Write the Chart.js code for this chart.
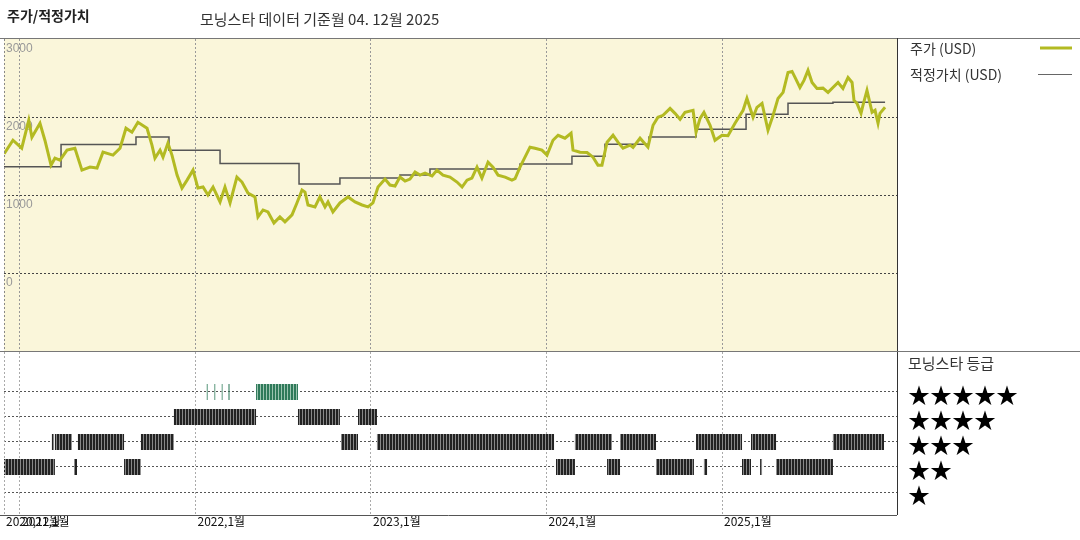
<!DOCTYPE html>
<html><head><meta charset="utf-8">
<script src="https://cdn.jsdelivr.net/npm/chart.js@4.4.1/dist/chart.umd.min.js"></script>
<style>
body{margin:0;background:#fff;width:1080px;height:540px;overflow:hidden;font-family:"Noto Sans CJK KR","Noto Sans",sans-serif;}
#wrap{position:relative;width:1080px;height:540px;}
canvas{position:absolute;left:0;}
.t{position:absolute;white-space:nowrap;color:#222;}
</style></head><body>
<div id="wrap">
<canvas id="c1" width="1080" height="352" style="top:0"></canvas>
<canvas id="c2" width="1080" height="188" style="top:352px"></canvas>
<div class="t" style="left:7px;top:5px;font-size:14px;font-weight:bold;">주가/적정가치</div>
<div class="t" style="left:200px;top:8px;font-size:15px;color:#333;">모닝스타 데이터 기준월 04. 12월 2025</div>
<div class="t" style="left:910px;top:38px;font-size:14px;color:#333;">주가 (USD)</div>
<div class="t" style="left:910px;top:64px;font-size:14px;color:#333;">적정가치 (USD)</div>
<div class="t" style="left:908px;top:352px;font-size:15px;color:#333;">모닝스타 등급</div>
<div class="t" style="left:908px;top:377px;font-size:22px;color:#000;">★★★★★</div>
<div class="t" style="left:908px;top:402px;font-size:22px;color:#000;">★★★★</div>
<div class="t" style="left:908px;top:427px;font-size:22px;color:#000;">★★★</div>
<div class="t" style="left:908px;top:452px;font-size:22px;color:#000;">★★</div>
<div class="t" style="left:908px;top:477px;font-size:22px;color:#000;">★</div>
</div>
<script>
// ---- data (x in decimal years) ----
const priceDates = [2020.91,2020.96,2021.01,2021.05,2021.068,2021.114,2021.142,2021.177,2021.199,2021.228,2021.268,2021.313,2021.353,2021.399,2021.439,2021.473,2021.53,2021.57,2021.604,2021.638,2021.672,2021.724,2021.752,2021.769,2021.798,2021.815,2021.843,2021.866,2021.895,2021.923,2021.952,2021.986,2022.014,2022.043,2022.071,2022.1,2022.14,2022.168,2022.197,2022.236,2022.265,2022.299,2022.339,2022.356,2022.385,2022.413,2022.447,2022.481,2022.51,2022.55,2022.578,2022.607,2022.624,2022.641,2022.681,2022.709,2022.738,2022.755,2022.783,2022.823,2022.869,2022.909,2022.949,2022.983,2023.011,2023.04,2023.08,2023.108,2023.137,2023.165,2023.194,2023.222,2023.251,2023.279,2023.308,2023.348,2023.376,2023.41,2023.45,2023.49,2023.519,2023.547,2023.575,2023.604,2023.632,2023.667,2023.695,2023.724,2023.764,2023.803,2023.821,2023.849,2023.906,2023.934,2023.974,2024.003,2024.037,2024.066,2024.105,2024.14,2024.151,2024.191,2024.231,2024.265,2024.293,2024.316,2024.345,2024.379,2024.407,2024.436,2024.476,2024.493,2024.533,2024.578,2024.607,2024.635,2024.664,2024.704,2024.732,2024.761,2024.789,2024.835,2024.852,2024.875,2024.897,2024.932,2024.96,2025.0,2025.034,2025.074,2025.12,2025.142,2025.177,2025.199,2025.228,2025.262,2025.291,2025.319,2025.348,2025.376,2025.399,2025.416,2025.444,2025.467,2025.49,2025.513,2025.541,2025.575,2025.604,2025.632,2025.661,2025.689,2025.718,2025.741,2025.752,2025.769,2025.792,2025.803,2025.826,2025.855,2025.872,2025.889,2025.9,2025.929];
const priceValues = [1529,1702,1600,1958,1740,1920,1702,1383,1472,1447,1575,1600,1319,1358,1345,1549,1511,1600,1856,1805,1932,1856,1639,1472,1575,1485,1664,1511,1255,1089,1191,1319,1089,1102,1000,1102,911,1102,898,1230,1166,1025,975,719,808,783,642,719,655,745,898,1064,1038,872,847,975,847,911,783,898,975,911,872,847,898,1102,1204,1128,1115,1230,1179,1204,1294,1255,1281,1243,1319,1255,1230,1166,1102,1191,1217,1358,1217,1421,1358,1255,1230,1191,1210,1358,1613,1600,1575,1511,1702,1766,1728,1792,1575,1549,1545,1485,1383,1383,1677,1766,1677,1600,1639,1610,1728,1613,1894,1997,2022,2111,2047,1970,2060,2086,1805,1983,2060,1894,1702,1766,1760,1920,2086,2238,1997,2124,2175,1830,2022,2238,2316,2571,2584,2507,2379,2469,2597,2443,2366,2370,2316,2379,2443,2366,2507,2443,2213,2175,2047,2150,2341,2060,2086,1920,2047,2124];
const fairDates = [2020.886,2021.234,2021.661,2021.849,2022.14,2022.59,2022.823,2023.165,2023.336,2023.849,2024.145,2024.333,2024.584,2024.852,2025.137,2025.376,2025.632,2025.883,2025.929];
const fairValues = [1298,1362,1648,1745,1575,1405,1140,1217,1255,1332,1396,1498,1650,1745,1842,2034,2175,2188,2188];
const yTicks = [3000,2000,1000,0];
const xTickYears = [2021,2022,2023,2024,2025];
const xTickLabels = ["2021,1월","2022,1월","2023,1월","2024,1월","2025,1월"];
const firstLabel = "2020,12월";
// rating periods [start,end]
const rating2 = [[2020.903,2021.199],[2021.308,2021.325],[2021.593,2021.689],[2024.054,2024.162],[2024.345,2024.419],[2024.624,2024.84],[2024.897,2024.915],[2025.114,2025.165],[2025.217,2025.228],[2025.308,2025.632]];
const rating3 = [[2021.182,2021.194],[2021.199,2021.296],[2021.33,2021.593],[2021.689,2021.877],[2022.829,2022.926],[2023.034,2024.043],[2024.162,2024.373],[2024.419,2024.624],[2024.852,2025.114],[2025.165,2025.308],[2025.632,2025.923]];
const rating4 = [[2021.877,2022.345],[2022.584,2022.823],[2022.926,2023.034]];
const rating5 = [[2022.063,2022.069],[2022.108,2022.114],[2022.148,2022.154],[2022.188,2022.194],[2022.345,2022.584]];

const XMIN = 2020.909, XMAX = 2025.997;
const GREEN = '#b3ba22';

function stripes(dark, light){
  const c=document.createElement('canvas');c.width=3;c.height=4;
  const g=c.getContext('2d');g.fillStyle=light;g.fillRect(0,0,3,4);g.fillStyle=dark;g.fillRect(0,0,2,4);
  return g.createPattern(c,'repeat');
}

const bgPlugin = {id:'bg', beforeDraw(ch){
  const {ctx,chartArea:a}=ch; ctx.save();ctx.fillStyle='#faf6da';ctx.fillRect(a.left,a.top,a.right-a.left,a.bottom-a.top);ctx.restore();
}};
const c1Plugin = {id:'p1', beforeDatasetsDraw(ch){
  const {ctx,scales:{y}}=ch; ctx.save(); ctx.fillStyle='#999'; ctx.font='12px "Liberation Sans",sans-serif'; ctx.textBaseline='top';
  yTicks.forEach(v=>ctx.fillText(String(v),6,y.getPixelForValue(v)+4)); ctx.restore();
}, afterDraw(ch){
  const ctx=ch.ctx; ctx.save(); ctx.strokeStyle='#777'; ctx.lineWidth=1;
  ctx.beginPath();ctx.moveTo(0,38.5);ctx.lineTo(1080,38.5);ctx.stroke();
  ctx.strokeStyle='#333';ctx.beginPath();ctx.moveTo(897.5,38);ctx.lineTo(897.5,352);ctx.stroke();
  ctx.strokeStyle='#777';ctx.beginPath();ctx.moveTo(0,351.5);ctx.lineTo(1080,351.5);ctx.stroke();
  ctx.setLineDash([2,2]);ctx.strokeStyle='#888';ctx.beginPath();ctx.moveTo(4.5,39);ctx.lineTo(4.5,351);ctx.stroke();ctx.setLineDash([]);
  ctx.strokeStyle=GREEN;ctx.lineWidth=3;ctx.beginPath();ctx.moveTo(1040,48);ctx.lineTo(1072,48);ctx.stroke();
  ctx.strokeStyle='#666';ctx.lineWidth=1;ctx.beginPath();ctx.moveTo(1038,74.5);ctx.lineTo(1072,74.5);ctx.stroke();
  ctx.restore();
}};
const c2Plugin = {id:'p2', afterDraw(ch){
  const {ctx,scales:{x}}=ch; ctx.save(); ctx.fillStyle='#111'; ctx.font='12px "Noto Sans CJK KR",sans-serif'; ctx.textBaseline='top';
  ctx.fillText(firstLabel,6,163);
  xTickYears.forEach((v,i)=>ctx.fillText(xTickLabels[i],x.getPixelForValue(v)+2,163));
  ctx.strokeStyle='#333';ctx.lineWidth=1;
  ctx.beginPath();ctx.moveTo(897.5,0);ctx.lineTo(897.5,163);ctx.stroke();
  ctx.strokeStyle='#555';ctx.beginPath();ctx.moveTo(0,163.5);ctx.lineTo(897,163.5);ctx.stroke();
  ctx.setLineDash([2,2]);ctx.strokeStyle='#aaa';ctx.beginPath();ctx.moveTo(4.5,0);ctx.lineTo(4.5,163);ctx.stroke();
  ctx.restore();
}};

function xScale(color){return {type:'linear',min:XMIN,max:XMAX,
  afterBuildTicks(s){s.ticks=xTickYears.map(v=>({value:v}));},
  ticks:{display:false},border:{display:false,dash:[2,2]},
  grid:{color:color,lineWidth:1,drawTicks:false}};}

new Chart(document.getElementById('c1'),{
  type:'line',
  data:{datasets:[
    {data:priceDates.map((d,i)=>({x:d,y:priceValues[i]})),borderColor:GREEN,borderWidth:3,pointRadius:0,tension:0},
    {data:fairDates.map((d,i)=>({x:d,y:fairValues[i]})),borderColor:'#555',borderWidth:1.5,pointRadius:0,stepped:'after'}
  ]},
  options:{animation:false,responsive:false,devicePixelRatio:1,
    layout:{padding:{left:4,top:39,right:183,bottom:1}},
    plugins:{legend:{display:false},tooltip:{enabled:false}},
    scales:{
      x:xScale('#999'),
      y:{min:-1000,max:3000,afterBuildTicks(s){s.ticks=[0,1000,2000].map(v=>({value:v}));},
        ticks:{display:false},border:{display:false,dash:[2,2]},grid:{color:'#444',drawTicks:false}}
    }},
  plugins:[bgPlugin,c1Plugin]
});

const darkP = stripes('#222','#888');
const greenP = stripes('#2f7a5a','#9cc4b0');
const ratingSets=[];
[[rating2,2],[rating3,3],[rating4,4],[rating5,5]].forEach(([segs,r])=>{
  segs.forEach(([s,e])=>ratingSets.push({data:[{x:s,y:r},{x:e,y:r}],borderColor:r===5?greenP:darkP,borderWidth:16,borderCapStyle:'butt',pointRadius:0}));
});
new Chart(document.getElementById('c2'),{
  type:'line',
  data:{datasets:ratingSets},
  options:{animation:false,responsive:false,devicePixelRatio:1,
    layout:{padding:{left:4,top:0,right:183,bottom:25}},
    plugins:{legend:{display:false},tooltip:{enabled:false}},
    scales:{
      x:xScale('#aaa'),
      y:{min:0.08,max:6.6,afterBuildTicks(s){s.ticks=[1,2,3,4,5].map(v=>({value:v}));},
        ticks:{display:false},border:{display:false,dash:[2,2]},grid:{color:'#555',drawTicks:false}}
    }},
  plugins:[c2Plugin]
});
</script>
</body></html>
